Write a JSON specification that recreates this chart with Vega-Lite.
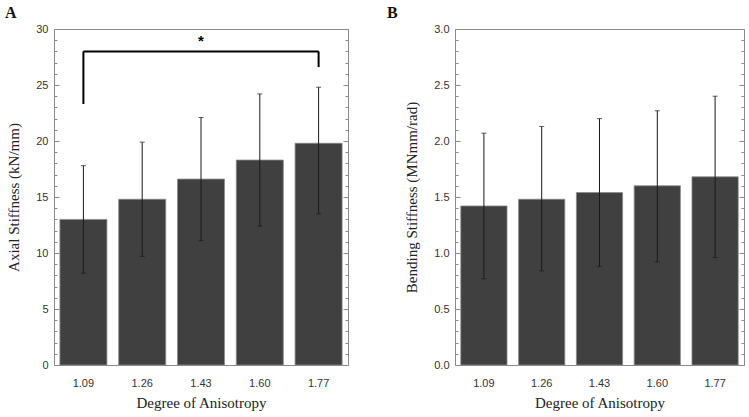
{
  "$schema": "https://vega.github.io/schema/vega-lite/v6.json",
  "padding": {"left": 4, "top": 4, "right": 5, "bottom": 5},
  "background": "white",
  "spacing": 37,
  "config": {
    "view": {"stroke": "#8a8a8a", "strokeWidth": 1},
    "axis": {"domain": false, "grid": false, "labelFont": "Liberation Sans", "labelFontSize": 11, "labelColor": "#333333", "titleFont": "Liberation Serif", "titleFontSize": 15, "titleFontWeight": "normal", "titleColor": "#222222", "tickColor": "#8a8a8a", "labelOverlap": false}
  },
  "datasets": {
    "axial": [
      {"doa": "1.09", "mean": 13.0, "lo": 8.2, "hi": 17.8},
      {"doa": "1.26", "mean": 14.8, "lo": 9.7, "hi": 19.9},
      {"doa": "1.43", "mean": 16.6, "lo": 11.1, "hi": 22.1},
      {"doa": "1.60", "mean": 18.3, "lo": 12.4, "hi": 24.2},
      {"doa": "1.77", "mean": 19.8, "lo": 13.5, "hi": 24.8}
    ],
    "bending": [
      {"doa": "1.09", "mean": 1.42, "lo": 0.77, "hi": 2.07},
      {"doa": "1.26", "mean": 1.48, "lo": 0.84, "hi": 2.13},
      {"doa": "1.43", "mean": 1.54, "lo": 0.88, "hi": 2.20},
      {"doa": "1.60", "mean": 1.60, "lo": 0.92, "hi": 2.27},
      {"doa": "1.77", "mean": 1.68, "lo": 0.96, "hi": 2.40}
    ],
    "legs": [
      {"doa": "1.09", "y1": 23.3, "y2": 28.0},
      {"doa": "1.77", "y1": 26.6, "y2": 28.0}
    ],
    "bar": [
      {"doa": "1.09", "doa2": "1.77", "y": 28.0}
    ],
    "star": [
      {"doa": "1.43", "y": 28.9, "label": "*"}
    ]
  },
  "hconcat": [
    {
      "width": 294,
      "height": 336,
      "title": {"text": "A", "anchor": "start", "frame": "group", "font": "Liberation Serif", "fontSize": 16, "fontWeight": "bold", "color": "#111111", "dx": -49, "offset": 2},
      "data": {"name": "axial"},
      "resolve": {"axis": {"y": "independent"}},
      "layer": [
        {
          "mark": {"type": "bar", "color": "#404040", "stroke": "#8c8c8c", "strokeWidth": 0.8},
          "encoding": {
            "x": {"field": "doa", "type": "ordinal", "scale": {"paddingInner": 0.2, "paddingOuter": 0.1}, "axis": {"title": "Degree of Anisotropy", "labelAngle": 0, "ticks": false, "labelPadding": 12, "titlePadding": 7}},
            "y": {"field": "mean", "type": "quantitative", "scale": {"domain": [0, 30], "nice": false, "zero": true},
              "axis": {"title": "Axial Stiffness (kN/mm)", "orient": "left", "values": [0,1,2,3,4,5,6,7,8,9,10,11,12,13,14,15,16,17,18,19,20,21,22,23,24,25,26,27,28,29,30],
                "labelExpr": "datum.value % 5 === 0 ? datum.label : ''",
                "ticks": true, "tickWidth": 1,
                "tickSize": {"condition": {"test": "datum.value % 5 === 0", "value": -5}, "value": -3},
                "labelPadding": 11, "titlePadding": 14}}
          }
        },
        {
          "mark": {"type": "rule", "color": "#1a1a1a", "strokeWidth": 1},
          "encoding": {
            "x": {"field": "doa", "type": "ordinal"},
            "y": {"field": "lo", "type": "quantitative",
              "axis": {"orient": "right", "labels": false, "title": null, "values": [0,1,2,3,4,5,6,7,8,9,10,11,12,13,14,15,16,17,18,19,20,21,22,23,24,25,26,27,28,29,30],
                "ticks": true, "tickWidth": 1,
                "tickSize": {"condition": {"test": "datum.value % 5 === 0", "value": -5}, "value": -3}}},
            "y2": {"field": "hi"}
          }
        },
        {
          "mark": {"type": "tick", "color": "#1a1a1a", "size": 5, "thickness": 1},
          "encoding": {
            "x": {"field": "doa", "type": "ordinal"},
            "y": {"field": "hi", "type": "quantitative", "axis": null}
          }
        },
        {
          "mark": {"type": "tick", "color": "#1a1a1a", "size": 5, "thickness": 1},
          "encoding": {
            "x": {"field": "doa", "type": "ordinal"},
            "y": {"field": "lo", "type": "quantitative", "axis": null}
          }
        },
        {
          "data": {"name": "legs"},
          "mark": {"type": "rule", "color": "#000000", "strokeWidth": 2},
          "encoding": {
            "x": {"field": "doa", "type": "ordinal"},
            "y": {"field": "y1", "type": "quantitative", "axis": null},
            "y2": {"field": "y2"}
          }
        },
        {
          "data": {"name": "bar"},
          "mark": {"type": "rule", "color": "#000000", "strokeWidth": 2},
          "encoding": {
            "x": {"field": "doa", "type": "ordinal"},
            "x2": {"field": "doa2"},
            "y": {"field": "y", "type": "quantitative", "axis": null}
          }
        },
        {
          "data": {"name": "star"},
          "mark": {"type": "text", "font": "Liberation Sans", "fontSize": 15, "fontWeight": "bold", "color": "#000000"},
          "encoding": {
            "x": {"field": "doa", "type": "ordinal"},
            "y": {"field": "y", "type": "quantitative", "axis": null},
            "text": {"field": "label"}
          }
        }
      ]
    },
    {
      "width": 289,
      "height": 336,
      "title": {"text": "B", "anchor": "start", "frame": "group", "font": "Liberation Serif", "fontSize": 16, "fontWeight": "bold", "color": "#111111", "dx": -68, "offset": 2},
      "data": {"name": "bending"},
      "resolve": {"axis": {"y": "independent"}},
      "layer": [
        {
          "mark": {"type": "bar", "color": "#404040", "stroke": "#8c8c8c", "strokeWidth": 0.8},
          "encoding": {
            "x": {"field": "doa", "type": "ordinal", "scale": {"paddingInner": 0.2, "paddingOuter": 0.1}, "axis": {"title": "Degree of Anisotropy", "labelAngle": 0, "ticks": false, "labelPadding": 12, "titlePadding": 7}},
            "y": {"field": "mean", "type": "quantitative", "scale": {"domain": [0, 3], "nice": false, "zero": true},
              "axis": {"title": "Bending Stiffness (MNmm/rad)", "orient": "left", "values": [0,0.1,0.2,0.3,0.4,0.5,0.6,0.7,0.8,0.9,1,1.1,1.2,1.3,1.4,1.5,1.6,1.7,1.8,1.9,2,2.1,2.2,2.3,2.4,2.5,2.6,2.7,2.8,2.9,3],
                "labelExpr": "round(datum.value * 10) % 5 === 0 ? format(datum.value, '.1f') : ''",
                "ticks": true, "tickWidth": 1,
                "tickSize": {"condition": {"test": "round(datum.value * 10) % 5 === 0", "value": -5}, "value": -3},
                "labelPadding": 11, "titlePadding": 14}}
          }
        },
        {
          "mark": {"type": "rule", "color": "#1a1a1a", "strokeWidth": 1},
          "encoding": {
            "x": {"field": "doa", "type": "ordinal"},
            "y": {"field": "lo", "type": "quantitative",
              "axis": {"orient": "right", "labels": false, "title": null, "values": [0,0.1,0.2,0.3,0.4,0.5,0.6,0.7,0.8,0.9,1,1.1,1.2,1.3,1.4,1.5,1.6,1.7,1.8,1.9,2,2.1,2.2,2.3,2.4,2.5,2.6,2.7,2.8,2.9,3],
                "ticks": true, "tickWidth": 1,
                "tickSize": {"condition": {"test": "round(datum.value * 10) % 5 === 0", "value": -5}, "value": -3}}},
            "y2": {"field": "hi"}
          }
        },
        {
          "mark": {"type": "tick", "color": "#1a1a1a", "size": 5, "thickness": 1},
          "encoding": {
            "x": {"field": "doa", "type": "ordinal"},
            "y": {"field": "hi", "type": "quantitative", "axis": null}
          }
        },
        {
          "mark": {"type": "tick", "color": "#1a1a1a", "size": 5, "thickness": 1},
          "encoding": {
            "x": {"field": "doa", "type": "ordinal"},
            "y": {"field": "lo", "type": "quantitative", "axis": null}
          }
        }
      ]
    }
  ]
}
